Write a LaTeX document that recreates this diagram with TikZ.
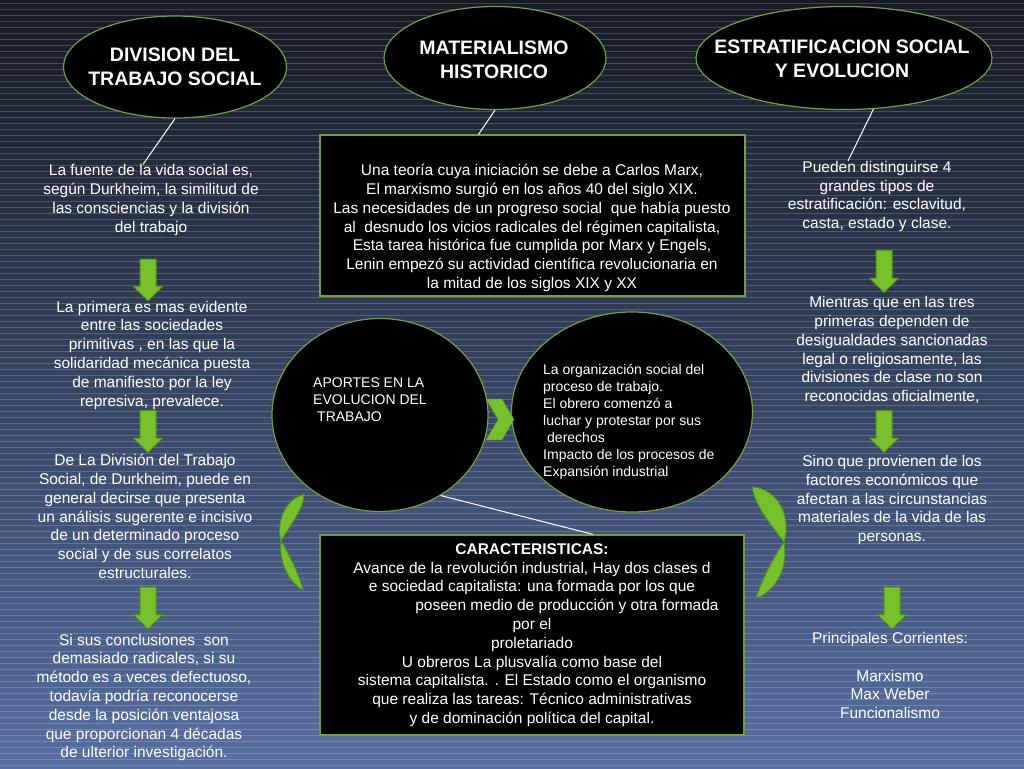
\documentclass[tikz,border=0pt]{standalone}
\usepackage{fontspec}
\setmainfont{Liberation Sans}
\usepackage{tikz}
\usetikzlibrary{shapes.geometric,shapes.arrows,arrows.meta,positioning,calc}
\definecolor{bgtop}{RGB}{22,26,34}
\definecolor{bgmid}{RGB}{46,58,88}
\definecolor{bgbot}{RGB}{88,110,160}
\definecolor{leafgreen}{RGB}{118,192,44}
\definecolor{darkleaf}{RGB}{84,146,32}
\definecolor{rimgreen}{RGB}{110,160,70}

\begin{document}
\begin{tikzpicture}[x=1pt,y=-1pt]
  \tikzstyle{title}=[ellipse,draw=rimgreen,line width=1.2pt,fill=black]
  \tikzstyle{titletext}=[text=white,font=\fontsize{19.5}{24}\selectfont\bfseries,align=center,inner sep=0pt]
  \tikzstyle{blackbox}=[rectangle,draw=rimgreen,line width=1.2pt,fill=black]
  \tikzstyle{body}=[text=white,font=\fontsize{15.5}{18.8}\selectfont,align=center,inner sep=0pt]
  \tikzstyle{small}=[text=white,font=\fontsize{14}{17}\selectfont,align=left,inner sep=0pt]
  \tikzstyle{down}=[single arrow,shape border rotate=270,fill=leafgreen,draw=darkleaf,line width=1pt,minimum height=42pt,minimum width=28pt,single arrow head extend=6.5pt,inner sep=7.5pt]
  \tikzstyle{link}=[draw=white,line width=1pt]
  \tikzstyle{leaf}=[fill=leafgreen,draw=darkleaf,line width=1pt]

  % background
  \useasboundingbox (0,0) rectangle (1024,768);
  \shade[top color=bgtop,middle color=bgmid,bottom color=bgbot] (0,0) rectangle (1024,768);
  \foreach \y in {3,9,...,768}
    \draw[white,opacity=0.18,line width=0.8pt] (0,\y) -- (1024,\y);

  % titles
  \node[title,minimum width=223pt,minimum height=102pt] (div) at (175,67) {};
  \node[titletext] at (div) {DIVISION DEL\\TRABAJO SOCIAL};
  \node[title,minimum width=222pt,minimum height=103pt] (mat) at (495,58) {};
  \node[titletext] at (494,60) {MATERIALISMO\\HISTORICO};
  \node[title,minimum width=296pt,minimum height=103pt] (est) at (844,58) {};
  \node[titletext] at (842,58.5) {ESTRATIFICACION SOCIAL\\Y EVOLUCION};

  % left column
  \node[body] (fuente) at (151,200) {La fuente de la vida social es,\\seg\'un Durkheim, la similitud de\\las consciencias y la divisi\'on\\del trabajo};
  \node[down] (la1) at (148,276) {};
  \node[body] (primera) at (152,355) {La primera es mas evidente\\entre las sociedades\\primitivas , en las que la\\solidaridad mec\'anica puesta\\de manifiesto por la ley\\represiva, prevalece.};
  \node[down] (la2) at (148,427.5) {};
  \node[body] (dediv) at (145,516.5) {De La Divisi\'on del Trabajo\\Social, de Durkheim, puede en\\general decirse que presenta\\un an\'alisis sugerente e incisivo\\de un determinado proceso\\social y de sus correlatos\\estructurales.};
  \node[down] (la3) at (148,604) {};
  \node[body] (sisus) at (144,697.5) {Si sus conclusiones\ \ son\\demasiado radicales, si su\\m\'etodo es a veces defectuoso,\\todav\'ia podr\'ia reconocerse\\desde la posici\'on ventajosa\\que proporcionan 4 d\'ecadas\\de ulterior investigaci\'on.};

  % middle
  \node[blackbox,minimum width=425pt,minimum height=161pt] (teoria) at (532.5,215.5) {};
  \node[body] at (532,228) {Una teor\'ia cuya iniciaci\'on se debe a Carlos Marx,\\El marxismo surgi\'o en los a\~nos 40 del siglo XIX.\\Las necesidades de un progreso social\ \ que hab\'ia puesto\\al\ \ desnudo los vicios radicales del r\'egimen capitalista,\\Esta tarea hist\'orica fue cumplida por Marx y Engels,\\Lenin empez\'o su actividad cient\'ifica revolucionaria en\\la mitad de los siglos XIX y XX};

  \node[title,minimum width=216pt,minimum height=193pt] (aportes) at (380,415) {};
  \node[small,anchor=west] at (313,400) {APORTES EN LA\\EVOLUCION DEL\\\hspace*{4pt}TRABAJO};
  \node[title,minimum width=241pt,minimum height=200pt] (org) at (632,412) {};
  \node[small,anchor=west] at (543,421.5) {La organizaci\'on social del\\proceso de trabajo.\\El obrero comenz\'o a\\luchar y protestar por sus\\\hspace*{4pt}derechos\\Impacto de los procesos de\\Expansi\'on industrial};
  \fill[leafgreen,draw=darkleaf] (486,399) -- (502,399) -- (514,419.5) -- (502,440) -- (486,440) -- (498,419.5) -- cycle;

  \node[blackbox,body,minimum width=424pt,minimum height=200pt] (carac) at (532,635) {\textbf{CARACTERISTICAS:}\\Avance de la revoluci\'on industrial, Hay dos clases d\\e sociedad capitalista: una formada por los que\\\hspace*{70pt}poseen medio de producci\'on y otra formada\\por el\\proletariado\\U obreros La plusval\'ia como base del\\sistema capitalista. . El Estado como el organismo\\que realiza las tareas: T\'ecnico administrativas\\y de dominaci\'on pol\'itica del capital.};

  % curved ribbons
  \path[leaf] (304,494) .. controls (285,500) and (276,522) .. (281,541) .. controls (292,522) and (304,508) .. cycle;
  \path[leaf] (281,541) .. controls (279,562) and (288,582) .. (303,590) .. controls (298,572) and (290,556) .. cycle;
  \path[leaf] (752,487) .. controls (778,488) and (792,518) .. (784,542) .. controls (772,526) and (756,508) .. cycle;
  \path[leaf] (784,542) .. controls (788,566) and (778,590) .. (756,598) .. controls (762,580) and (772,560) .. cycle;

  % right column
  \node[body] (pueden) at (877,196.5) {Pueden distinguirse 4\\grandes tipos de\\estratificaci\'on: esclavitud,\\casta, estado y clase.};
  \node[down] (ra1) at (884,267.5) {};
  \node[body] (mientras) at (892,350) {Mientras que en las tres\\primeras dependen de\\desigualdades sancionadas\\legal o religiosamente, las\\divisiones de clase no son\\reconocidas oficialmente,};
  \node[down] (ra2) at (884,427.5) {};
  \node[body] (sino) at (892,500) {Sino que provienen de los\\factores econ\'omicos que\\afectan a las circunstancias\\materiales de la vida de las\\personas.};
  \node[down] (ra3) at (892,604) {};
  \node[body] (corr) at (890,675.5) {Principales Corrientes:\\\mbox{}\\Marxismo\\Max Weber\\Funcionalismo};

  % links
  \draw[link] (div.south) -- ([xshift=-8pt]fuente.north);
  \draw[link] (mat.south) -- ([xshift=-54pt]teoria.north);
  \draw[link] (est.-60) -- ([xshift=-29pt]pueden.north);
  \draw[link] (aportes.-53.5) -- ([xshift=61pt]carac.north);
\end{tikzpicture}
\end{document}
